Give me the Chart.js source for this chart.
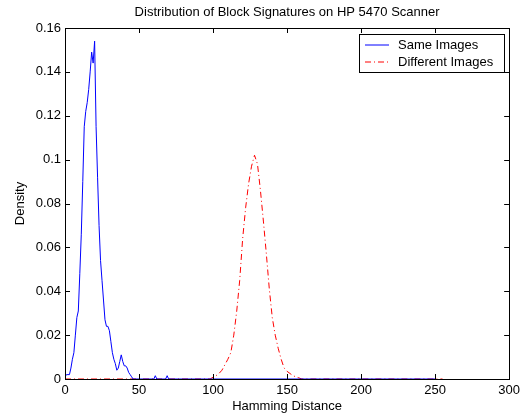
<!DOCTYPE html>
<html>
<head>
<meta charset="utf-8">
<script src="https://cdn.jsdelivr.net/npm/chart.js@4"></script>
<style>
body { margin: 0; background: #fff; }
</style>
</head>
<body>
<canvas id="chart" width="524" height="416"></canvas>
<script>
// Same Images (blue)
const sameX = [0, 1, 2, 3, 4, 5, 6, 7, 8, 9, 10, 11, 12, 13, 14, 15, 16, 17, 18, 19, 20,
    21, 22, 23, 24, 25, 26, 27, 28, 29, 30, 31, 32, 33, 34, 35, 36, 37, 38, 39, 40,
    41, 42, 43, 44, 45, 46, 60, 61, 62, 68, 69, 70, 250];
const sameY = [0.001, 0.002, 0.002, 0.002, 0.005, 0.009, 0.012, 0.02, 0.028, 0.031, 0.048, 0.066, 0.09, 0.115, 0.122, 0.126, 0.132, 0.14, 0.149, 0.144, 0.154,
    0.115, 0.092, 0.07, 0.054, 0.045, 0.036, 0.027, 0.024, 0.024, 0.022, 0.017, 0.012, 0.009, 0.007, 0.004, 0.005, 0.008, 0.011, 0.008, 0.006,
    0.006, 0.005, 0.003, 0.002, 0.001, 0, 0, 0.0015, 0, 0, 0.0015, 0, 0];

// Different Images (red)
const diffX = [0, 98, 100, 102, 104, 106, 108, 110, 112, 114, 116, 118, 120, 122, 124, 126, 128,
    130, 132, 134, 136, 138, 140, 142, 144, 146, 148, 150, 152, 154, 156, 158, 160, 255];
const diffY = [0, 0, 0.0008, 0.0015, 0.0025, 0.004, 0.0065, 0.009, 0.012, 0.02, 0.031, 0.045, 0.064, 0.078, 0.089, 0.097, 0.102,
    0.098, 0.086, 0.072, 0.057, 0.041, 0.028, 0.02, 0.014, 0.009, 0.005, 0.0035, 0.0025, 0.0015, 0.001, 0.0005, 0, 0];

const xTicks = [0, 50, 100, 150, 200, 250, 300];
const yTicks = [0, 0.02, 0.04, 0.06, 0.08, 0.1, 0.12, 0.14, 0.16];

const seriesColors = ['#0000ff', '#ff0000'];
const FONT = '"Liberation Sans", Arial, sans-serif';
const FSIZE = 13;

// frame, inward ticks, title and boxed legend like the original plot
const matlabLook = {
    id: 'matlabLook',
    afterDraw(chart) {
        const ctx = chart.ctx;
        const a = chart.chartArea;
        const xs = chart.scales.x, ys = chart.scales.y;
        ctx.save();
        ctx.strokeStyle = '#000';
        ctx.lineWidth = 1;
        ctx.setLineDash([]);
        ctx.strokeRect(Math.round(a.left) + 0.5, Math.round(a.top) + 0.5,
            Math.round(a.right - a.left), Math.round(a.bottom - a.top));
        ctx.beginPath();
        xTicks.forEach(v => {
            const px = Math.round(xs.getPixelForValue(v)) + 0.5;
            ctx.moveTo(px, a.bottom); ctx.lineTo(px, a.bottom - 5);
            ctx.moveTo(px, a.top); ctx.lineTo(px, a.top + 5);
        });
        yTicks.forEach(v => {
            const py = Math.round(ys.getPixelForValue(v)) + 0.5;
            ctx.moveTo(a.left, py); ctx.lineTo(a.left + 5, py);
            ctx.moveTo(a.right, py); ctx.lineTo(a.right - 5, py);
        });
        ctx.stroke();

        // title
        ctx.fillStyle = '#000';
        ctx.font = FSIZE + 'px ' + FONT;
        ctx.textAlign = 'center';
        ctx.textBaseline = 'middle';
        ctx.fillText('Distribution of Block Signatures on HP 5470 Scanner', (a.left + a.right) / 2, 12);

        // legend
        const lx = 359, ly = 34, lw = 145, lh = 38;
        ctx.fillStyle = '#fff';
        ctx.fillRect(lx, ly, lw, lh);
        ctx.strokeStyle = '#000';
        ctx.strokeRect(lx + 0.5, ly + 0.5, lw, lh);
        chart.data.datasets.forEach((ds, i) => {
            const y = ly + 11 + i * 17;
            ctx.strokeStyle = seriesColors[i];
            ctx.setLineDash(i === 1 ? [6, 3, 1, 3] : []);
            ctx.beginPath();
            ctx.moveTo(365, y); ctx.lineTo(389, y);
            ctx.stroke();
            ctx.fillStyle = '#000';
            ctx.textAlign = 'left';
            ctx.fillText(ds.label, 398, y);
        });
        ctx.restore();
    }
};

new Chart(document.getElementById('chart'), {
    type: 'line',
    data: {
        datasets: [{
            label: 'Same Images',
            data: sameX.map((x, i) => ({ x: x, y: sameY[i] })),
            borderColor: seriesColors[0],
            borderWidth: 1,
            pointRadius: 0,
            fill: false
        }, {
            label: 'Different Images',
            data: diffX.map((x, i) => ({ x: x, y: diffY[i] })),
            borderColor: seriesColors[1],
            borderWidth: 1,
            borderDash: [6, 3, 1, 3],
            pointRadius: 0,
            fill: false
        }]
    },
    options: {
        responsive: false,
        animation: false,
        layout: { padding: { top: 28, right: 13, left: 10, bottom: 0 } },
        plugins: {
            legend: { display: false },
            title: { display: false },
            tooltip: { enabled: false }
        },
        scales: {
            x: {
                type: 'linear',
                min: 0, max: 300,
                afterBuildTicks: s => { s.ticks = xTicks.map(v => ({ value: v })); },
                afterFit: s => { s.height = 37; },
                grid: { display: false, drawTicks: false },
                border: { display: false },
                ticks: { color: '#000', padding: 4, font: { family: FONT, size: FSIZE } },
                title: { display: true, text: 'Hamming Distance', color: '#000', padding: { top: 0, bottom: 2 }, font: { family: FONT, size: FSIZE } }
            },
            y: {
                min: 0, max: 0.16,
                afterBuildTicks: s => { s.ticks = yTicks.map(v => ({ value: v })); },
                afterFit: s => { s.width = 55; },
                grid: { display: false, drawTicks: false },
                border: { display: false },
                ticks: {
                    color: '#000', padding: 4, font: { family: FONT, size: FSIZE },
                    callback: v => String(+v.toFixed(2))
                },
                title: { display: true, text: 'Density', color: '#000', padding: 3, font: { family: FONT, size: FSIZE } }
            }
        }
    },
    plugins: [matlabLook]
});
</script>
</body>
</html>
